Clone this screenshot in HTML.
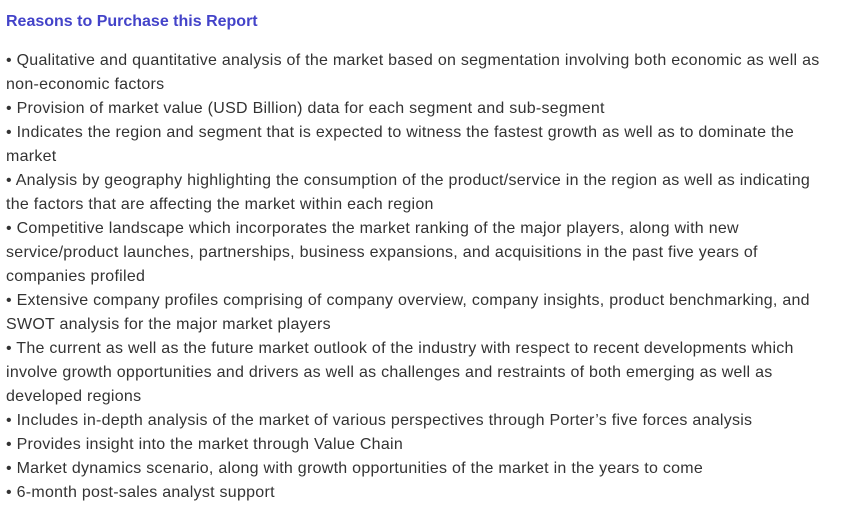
<!DOCTYPE html>
<html><head><style>
body{margin:0;background:#fff;width:842px;height:524px;overflow:hidden;font-family:"Liberation Sans",sans-serif;}
h1{position:absolute;left:6px;top:12px;margin:0;font-size:16px;font-weight:bold;color:#4343c9;line-height:20px;}
.t{position:absolute;left:6px;top:49px;font-size:16px;line-height:24px;color:#333;white-space:nowrap;letter-spacing:0.27px;}
</style></head><body>
<h1>Reasons to Purchase this Report</h1>
<div class="t">
• Qualitative and quantitative analysis of the market based on segmentation involving both economic as well as<br>
non-economic factors<br>
• Provision of market value (USD Billion) data for each segment and sub-segment<br>
• Indicates the region and segment that is expected to witness the fastest growth as well as to dominate the<br>
market<br>
• Analysis by geography highlighting the consumption of the product/service in the region as well as indicating<br>
the factors that are affecting the market within each region<br>
• Competitive landscape which incorporates the market ranking of the major players, along with new<br>
service/product launches, partnerships, business expansions, and acquisitions in the past five years of<br>
companies profiled<br>
• Extensive company profiles comprising of company overview, company insights, product benchmarking, and<br>
SWOT analysis for the major market players<br>
• The current as well as the future market outlook of the industry with respect to recent developments which<br>
involve growth opportunities and drivers as well as challenges and restraints of both emerging as well as<br>
developed regions<br>
• Includes in-depth analysis of the market of various perspectives through Porter’s five forces analysis<br>
• Provides insight into the market through Value Chain<br>
• Market dynamics scenario, along with growth opportunities of the market in the years to come<br>
• 6-month post-sales analyst support
</div>
</body></html>
